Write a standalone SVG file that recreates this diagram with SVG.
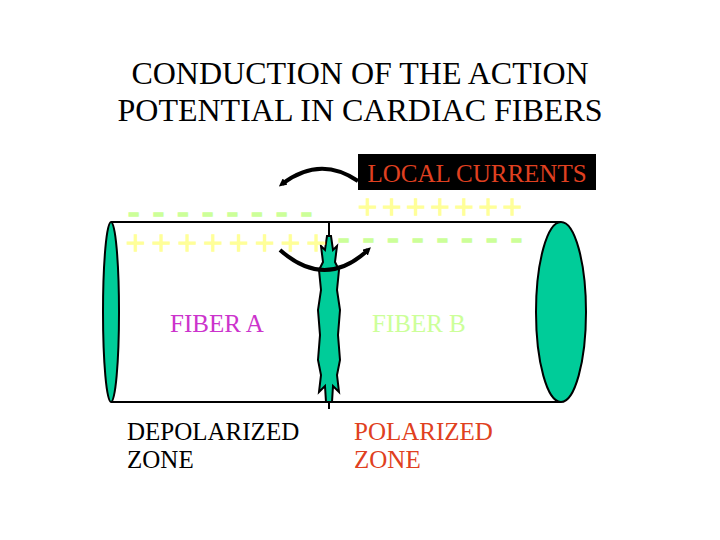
<svg xmlns="http://www.w3.org/2000/svg" width="720" height="540" viewBox="0 0 720 540">
<defs>
<style>
text{font-family:"Liberation Serif","Times New Roman",serif}
.t{font-size:32px;fill:#000}
.l{font-size:25px}
.pl{font-size:34px;fill:#ffff99;stroke:#ffff99;stroke-width:1.5}
.mn{font-size:34px;fill:#ccff99;stroke:#ccff99;stroke-width:1.5;font-weight:bold}
.arc{fill:none;stroke:#000;stroke-width:4}
.g{fill:#00cc99;stroke:#000;stroke-width:2}
</style>
<marker id="ah" markerWidth="8" markerHeight="8" refX="4" refY="4" orient="auto" markerUnits="userSpaceOnUse" viewBox="0 0 8 8"><path d="M0,0 L8,4 L0,8 Z" fill="#000"/></marker>
</defs>
<rect width="720" height="540" fill="#fff"/>
<g id="title"><text class="t" x="360" y="84" text-anchor="middle">CONDUCTION OF THE ACTION</text><text class="t" x="360" y="121" text-anchor="middle">POTENTIAL IN CARDIAC FIBERS</text></g>
<g id="cylinder">
<line x1="111" y1="222" x2="561" y2="222" stroke="#000" stroke-width="2"/>
<line x1="111" y1="402" x2="561" y2="402" stroke="#000" stroke-width="2"/>
<ellipse class="g" cx="111" cy="312" rx="8" ry="90"/>
<ellipse class="g" cx="561" cy="312" rx="25" ry="90"/>
<line x1="329" y1="222" x2="329" y2="409" stroke="#000" stroke-width="2"/>
<path class="g" d="M327,236 L331,236 L333,250 L337,246 L335,262 L339,270 L337,290 L340,310 L338,335 L340,360 L337,375 L339,392 L333,386 L332,402 L326,402 L325,386 L319,392 L321,375 L318,360 L320,335 L318,310 L321,290 L319,270 L323,262 L321,246 L325,250 Z"/>
</g>
<g id="charges">
<text class="mn" x="128" y="223" textLength="184" lengthAdjust="spacing">--------</text>
<text class="pl" x="358" y="218" textLength="164" lengthAdjust="spacing">+++++++</text>
<text class="pl" x="126" y="254" textLength="200" lengthAdjust="spacing">++++++++</text>
<text class="mn" x="338" y="249" textLength="184" lengthAdjust="spacing">--------</text>
</g>
<g id="connectors">
<path class="arc" d="M358,181 Q320,155 282,184" marker-end="url(#ah)"/>
<path class="arc" d="M280,250 Q325,290 368,250" marker-end="url(#ah)"/>
</g>
<g id="local"><rect x="358" y="154" width="238" height="36" fill="#000"/><text class="l" x="477" y="182" text-anchor="middle" fill="#e04020">LOCAL CURRENTS</text></g>
<g id="fiberA"><text class="l" x="170" y="332" fill="#cc33cc">FIBER A</text></g>
<g id="fiberB"><text class="l" x="372" y="332" fill="#ccff99">FIBER B</text></g>
<g id="depol"><text class="l" x="127" y="440" fill="#000">DEPOLARIZED</text><text class="l" x="127" y="468" fill="#000">ZONE</text></g>
<g id="pol"><text class="l" x="354" y="440" fill="#e04020">POLARIZED</text><text class="l" x="354" y="468" fill="#e04020">ZONE</text></g>
</svg>
